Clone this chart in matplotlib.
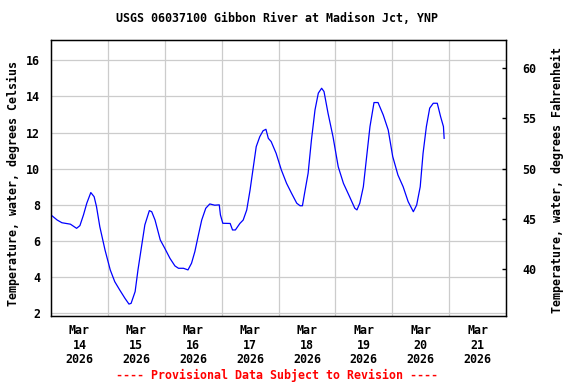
import matplotlib
matplotlib.use("Agg")
import matplotlib.pyplot as plt
from matplotlib.ticker import FixedLocator

# Hours since Mar 14 2026 00:00
hours = [0, 2.6, 4.6, 8.2, 10.8, 12.2, 13.7, 15.1, 16.8, 18.2, 19.2, 20.6, 22.8,
         25.0, 26.9, 29.0, 31.2, 32.9, 33.8, 35.5, 36.7, 38.2, 39.6, 41.5, 42.5,
         43.9, 46.1, 48.0, 50.2, 52.3, 53.8, 55.9, 57.8, 59.3, 60.7, 62.2, 63.6,
         65.3, 67.0, 69.1, 71.0, 71.5, 72.5, 75.6, 76.6, 77.8, 79.7, 81.1, 82.6,
         84.0, 85.2, 86.6, 88.1, 89.5, 90.7, 91.7, 92.9, 95.0, 97.2, 99.4, 101.5,
         103.7, 105.1, 106.1, 107.0, 108.5, 109.9, 111.4, 112.8, 114.2, 115.2,
         116.9, 119.0, 121.2, 123.4, 126.0, 128.2, 129.1, 130.3, 131.8, 133.2,
         134.6, 136.3, 138.0, 140.2, 142.3, 144.2, 146.4, 148.6, 150.7, 152.9,
         154.3, 155.8, 157.0, 158.4, 159.8, 161.3, 163.0, 164.4, 165.6, 165.9]
temp_c = [7.44, 7.16, 7.01, 6.93, 6.70, 6.85, 7.44, 8.09, 8.68, 8.45, 7.90, 6.79, 5.50,
          4.40, 3.75, 3.29, 2.83, 2.51, 2.55, 3.20, 4.40, 5.69, 6.89, 7.68, 7.62,
          7.16, 6.06, 5.60, 5.04, 4.62, 4.49, 4.49, 4.40, 4.77, 5.41, 6.33, 7.16,
          7.81, 8.05, 7.98, 8.00, 7.44, 6.98, 6.97, 6.61, 6.61, 6.97, 7.16, 7.72,
          8.82, 9.93, 11.22, 11.77, 12.10, 12.18, 11.68, 11.50, 10.85, 9.93, 9.19, 8.64,
          8.09, 7.95, 7.95, 8.64, 9.75, 11.59, 13.25, 14.18, 14.45, 14.27,
          13.07, 11.77, 10.11, 9.19, 8.45, 7.81, 7.72, 8.09, 9.00, 10.67,
          12.33, 13.66, 13.66, 12.97, 12.14, 10.67, 9.65, 9.00, 8.18, 7.62,
          7.99, 9.00, 10.85, 12.33, 13.35, 13.62, 13.62, 12.88, 12.33, 11.68]

day_labels = ["Mar\n14\n2026", "Mar\n15\n2026", "Mar\n16\n2026", "Mar\n17\n2026",
              "Mar\n18\n2026", "Mar\n19\n2026", "Mar\n20\n2026", "Mar\n21\n2026"]
c_ticks = [2, 4, 6, 8, 10, 12, 14, 16]
f_ticks = [40, 45, 50, 55, 60]

FONT = "DejaVu Sans Mono"
FS = 8.4
GRID = "#cccccc"

fig = plt.figure(figsize=(5.76, 3.84), dpi=100)
ax = fig.add_axes([51/576, 1-316/384, (506-51)/576, (316-40)/384])

ax.plot(hours, temp_c, color="#0000ff", lw=0.9, zorder=3)

ylo, yhi = 1.85, 17.12
ax.set_xlim(0, 192)
ax.set_ylim(ylo, yhi)

ax.xaxis.set_major_locator(FixedLocator([12 + 24*i for i in range(8)]))
ax.set_xticklabels(day_labels, fontfamily=FONT, fontsize=FS, fontweight="bold", linespacing=1.15)
ax.xaxis.set_minor_locator(FixedLocator([24*i for i in range(1, 8)]))
ax.tick_params(axis="x", which="major", length=0, pad=6)
ax.tick_params(axis="x", which="minor", length=0)
ax.grid(False)
ax.grid(True, axis="x", which="minor", color=GRID, lw=0.9)
ax.set_yticks(c_ticks)
ax.set_yticklabels([str(v) for v in c_ticks], fontfamily=FONT, fontsize=FS, fontweight="bold")
ax.tick_params(axis="y", length=0, pad=8)
ax.grid(True, axis="y", which="major", color=GRID, lw=0.9)
ax.set_axisbelow(True)
for s in ax.spines.values():
    s.set_linewidth(1.0)
    s.set_color("black")

ax2 = ax.twinx()
ax2.set_ylim(ylo*9/5+32, yhi*9/5+32)
ax2.set_yticks(f_ticks)
ax2.set_yticklabels([str(v) for v in f_ticks], fontfamily=FONT, fontsize=FS, fontweight="bold")
ax2.tick_params(axis="y", direction="in", length=3, width=1, pad=12)

ax.set_ylabel("Temperature, water, degrees Celsius", fontfamily=FONT, fontsize=FS, fontweight="bold")
ax2.set_ylabel("Temperature, water, degrees Fahrenheit", fontfamily=FONT, fontsize=FS, fontweight="bold")
ax.yaxis.set_label_coords(-31/455, (316-183)/276)
ax2.yaxis.set_label_coords(1 + 45/455, (316-180)/276)

fig.text(277/576, 1-19/384, "USGS 06037100 Gibbon River at Madison Jct, YNP",
         ha="center", va="center", fontfamily=FONT, fontsize=FS, fontweight="bold")
fig.text(277/576, 1-375/384, "---- Provisional Data Subject to Revision ----",
         ha="center", va="center", fontfamily=FONT, fontsize=FS, fontweight="bold", color="#ff0000")

fig.savefig("out.png", dpi=100)
